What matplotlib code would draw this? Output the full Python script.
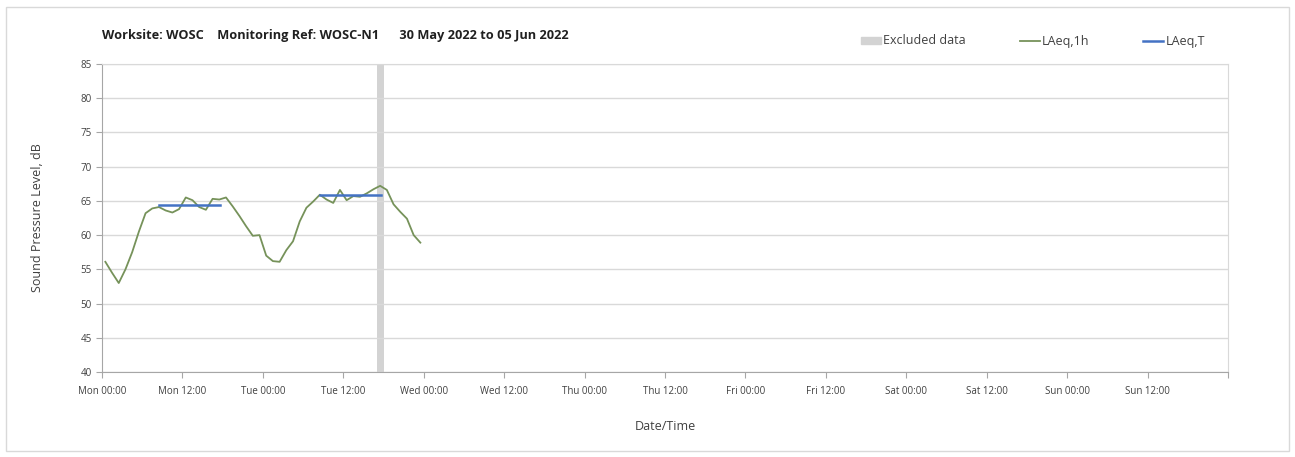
import numpy as np
import pandas as pd
import matplotlib
matplotlib.use("Agg")
import matplotlib.pyplot as plt
from matplotlib.patches import Patch, Rectangle
from matplotlib.lines import Line2D

plt.rcParams['font.family'] = ['Open Sans', 'DejaVu Sans']

# hourly LAeq,1h values, plotted at the middle of each hour
start = pd.Timestamp('2022-05-30 00:00')
laeq_1h = [56.1, 54.5, 53.0, 55.0, 57.5, 60.5, 63.2, 63.9, 64.1, 63.6,
           63.3, 63.8, 65.5, 65.1, 64.1, 63.7, 65.3, 65.2, 65.5, 64.2,
           62.8, 61.3, 59.9, 60.0, 57.0, 56.2, 56.1, 57.8, 59.1, 62.0,
           64.0, 64.9, 65.9, 65.2, 64.7, 66.6, 65.1, 65.7, 65.6, 66.1,
           66.7, 67.2, 66.6, 64.5, 63.4, 62.4, 60.0, 58.9]
times_1h = start + pd.to_timedelta(np.arange(len(laeq_1h)) + 0.5, unit='h')

# period LAeq,T : start hour, end hour, level
laeq_t_start = [8.5, 32.5]
laeq_t_end = [17.6, 41.7]
laeq_t_level = [64.4, 65.8]

# excluded period (hours from start)
excl_start = [41.0]
excl_end = [42.0]

fig = plt.figure(figsize=(12.95, 4.57), dpi=100)
ax = fig.add_axes([102 / 1295, 85 / 457, 1126 / 1295, 308 / 457])

for s, e in zip(excl_start, excl_end):
    ax.axvspan(start + pd.Timedelta(hours=s), start + pd.Timedelta(hours=e),
               color='#d3d3d3', lw=0, zorder=1)

ax.plot(times_1h, laeq_1h, color='#76925a', lw=1.3, zorder=3)
for s, e, lv in zip(laeq_t_start, laeq_t_end, laeq_t_level):
    ax.plot([start + pd.Timedelta(hours=s), start + pd.Timedelta(hours=e)],
            [lv, lv], color='#4472c4', lw=1.8, zorder=4)

ax.set_ylim(40, 85)
ax.set_yticks(np.arange(40, 86, 5))
ax.set_xlim(start, start + pd.Timedelta(days=7))
ticks = [start + pd.Timedelta(hours=12 * i) for i in range(15)]
ax.set_xticks(ticks)
ax.set_xticklabels([t.strftime('%a %H:%M') for t in ticks[:-1]] + [''])
ax.set_xticks([start + pd.Timedelta(days=i) for i in range(8)], minor=True)
ax.grid(False)
ax.grid(True, which='minor', axis='x', color='#d9d9d9', lw=1)
ax.grid(True, which='major', axis='y', color='#d9d9d9', lw=1)
ax.tick_params(which='minor', length=0)
ax.tick_params(which='major', length=4, color='#a6a6a6', labelsize=7,
               labelcolor='#404040')
ax.tick_params(axis='x', pad=6)
for side in ['left', 'bottom']:
    ax.spines[side].set_color('#a6a6a6')
for side in ['top', 'right']:
    ax.spines[side].set_color('#d9d9d9')

ax.set_ylabel('Sound Pressure Level, dB', fontsize=9, color='#404040', labelpad=26)
ax.set_xlabel('Date/Time', fontsize=9, color='#404040', labelpad=17)

fig.text(102 / 1295, 1 - 35 / 457,
         'Worksite: WOSC    Monitoring Ref: WOSC-N1      30 May 2022 to 05 Jun 2022',
         fontsize=9.2, fontweight='bold', color='#202020', va='center')

handles = [Patch(color='#d3d3d3', label='Excluded data'),
           Line2D([], [], color='#76925a', lw=1.3, label='LAeq,1h'),
           Line2D([], [], color='#4472c4', lw=1.8, label='LAeq,T')]
fig.legend(handles=handles, loc='center', bbox_to_anchor=(1033 / 1295, 1 - 41 / 457),
           ncol=3, frameon=False, fontsize=9, handlelength=1.6, handleheight=0.5,
           handletextpad=0.2, columnspacing=4.3, labelcolor='#404040')

fig.patches.append(Rectangle((6 / 1295, 6 / 457), 1283 / 1295, 444 / 457,
                             transform=fig.transFigure, fill=False,
                             edgecolor='#d9d9d9', lw=1))

fig.savefig('out.png', dpi=100)
